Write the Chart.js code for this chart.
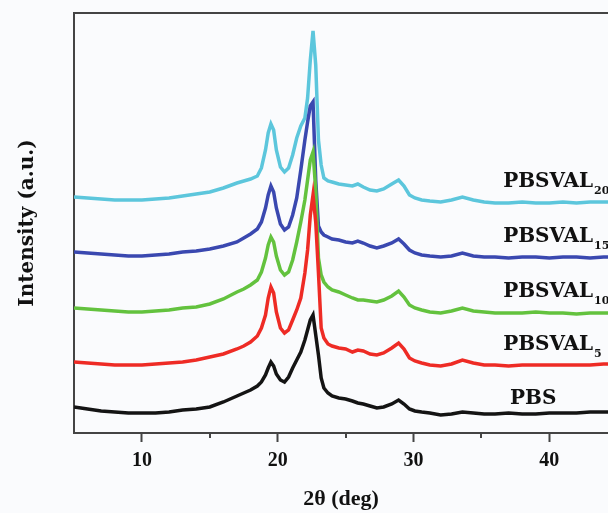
<!DOCTYPE html>
<html>
<head>
<meta charset="utf-8">
<title>XRD patterns</title>
<script src="https://cdn.jsdelivr.net/npm/chart.js@4.4.1/dist/chart.umd.min.js"></script>
<style>
    html, body { margin: 0; padding: 0; background: #fafbfd; }
    #wrap { width: 608px; height: 513px; }
</style>
</head>
<body>
<div id="wrap"><canvas id="xrdChart" width="608" height="513"></canvas></div>
<script>
// 2theta positions (deg), shared by all patterns
const angles = [5, 6, 7, 8, 9, 10, 11, 12, 13, 14, 15, 16, 17, 17.5, 18, 18.5, 18.8,
    19.1, 19.3, 19.5, 19.7, 19.9, 20.2, 20.5, 20.8, 21.1, 21.4, 21.7,
    22, 22.2, 22.4, 22.6, 22.8, 23, 23.2, 23.4, 23.7,
    24, 24.5, 25, 25.5, 25.9, 26.3, 26.8, 27.3, 27.8, 28.4, 28.9, 29.3, 29.7, 30.1, 30.6, 31.2,
    32, 32.8, 33.6, 34.4, 35.2, 36,
    37, 38, 39, 40, 41, 42, 43, 44, 45];

// intensities (a.u., already stacked with offsets as in the figure)
const pbs = [26, 24, 22, 21, 20, 20, 20, 21, 23, 24, 26, 31, 37, 40, 43, 47, 51,
    58, 65, 71, 67, 59, 53, 51, 56, 65, 73, 81,
    93, 103, 113, 118, 98, 78, 55, 45, 40,
    37, 35, 34, 32, 30, 29, 27, 25, 26, 29, 33, 29, 24, 22, 21, 20,
    18, 19, 21, 20, 19, 19,
    20, 19, 19, 20, 20, 20, 21, 21, 21];
const pbsval5 = [71, 70, 69, 68, 68, 68, 69, 70, 71, 73, 76, 79, 84, 87, 91, 97, 105,
    118, 135, 146, 140, 121, 105, 100, 103, 113, 123, 135,
    160, 183, 218, 238, 211, 160, 105, 95, 89,
    87, 85, 84, 81, 83, 82, 79, 78, 80, 85, 90, 84, 75, 72, 70, 68,
    67, 69, 73, 70, 68, 68,
    67, 68, 68, 68, 68, 68, 68, 69, 69];
const pbsval10 = [125, 124, 123, 122, 121, 121, 122, 123, 125, 126, 129, 134, 141, 144, 148, 153, 161,
    175, 188, 196, 191, 177, 163, 158, 161, 173, 191, 211,
    233, 253, 273, 281, 243, 175, 158, 151, 146,
    143, 141, 138, 135, 133, 133, 132, 131, 133, 137, 142, 136, 128, 125, 123, 121,
    120, 122, 125, 122, 121, 120,
    120, 120, 121, 120, 120, 119, 120, 120, 120];
const pbsval15 = [181, 180, 179, 178, 177, 177, 178, 179, 181, 182, 184, 187, 191, 195, 199, 204, 211,
    225, 238, 247, 241, 225, 209, 203, 206, 218, 235, 263,
    293, 311, 327, 331, 253, 207, 201, 198, 196,
    194, 193, 191, 190, 192, 190, 187, 185, 187, 190, 194, 189, 183, 180, 178, 177,
    176, 177, 180, 177, 176, 176,
    175, 176, 176, 175, 176, 176, 175, 176, 176];
const pbsval20 = [236, 235, 234, 233, 233, 233, 234, 235, 237, 239, 241, 245, 250, 252, 254, 257, 265,
    283, 300, 309, 303, 283, 266, 261, 265, 278, 295, 307,
    315, 335, 373, 402, 368, 293, 268, 255, 252,
    251, 249, 248, 247, 249, 246, 243, 242, 244, 249, 253, 247, 238, 235, 233, 232,
    231, 233, 236, 233, 231, 230,
    230, 231, 230, 230, 231, 230, 231, 231, 231];

const seriesNames = ['PBS', 'PBSVAL', 'PBSVAL', 'PBSVAL', 'PBSVAL'];
const seriesSubs = ['', '5', '10', '15', '20'];
const seriesColors = ['#141414', '#ee2b25', '#63c23e', '#3a48b0', '#5cc6dc'];
const seriesValues = [pbs, pbsval5, pbsval10, pbsval15, pbsval20];

const majorTicks = [10, 20, 30, 40];
const minorTicks = [15, 25, 35];

// where the sample names sit (2theta, intensity)
const labelSpots = [
    { x: 37.1, y: 36 },
    { x: 36.6, y: 90 },
    { x: 36.6, y: 143 },
    { x: 36.6, y: 198 },
    { x: 36.6, y: 253 }
];

const datasets = seriesValues.map((vals, i) => ({
    label: seriesNames[i] + seriesSubs[i],
    data: angles.map((a, j) => ({ x: a, y: vals[j] })),
    borderColor: seriesColors[i],
    borderWidth: 3.5,
    pointRadius: 0,
    tension: 0,
    fill: false
}));

// top frame line, short minor ticks and the sample names
const extrasPlugin = {
    id: 'extras',
    afterDraw(chart) {
        const ctx = chart.ctx;
        const area = chart.chartArea;
        const xs = chart.scales.x;
        const ys = chart.scales.y;

        ctx.save();
        ctx.strokeStyle = '#444';
        ctx.lineWidth = 2;
        ctx.beginPath();
        ctx.moveTo(area.left - 1, area.top);
        ctx.lineTo(area.right, area.top);
        ctx.stroke();

        minorTicks.forEach(v => {
            const px = Math.round(xs.getPixelForValue(v));
            ctx.beginPath();
            ctx.moveTo(px, area.bottom);
            ctx.lineTo(px, area.bottom + 5);
            ctx.stroke();
        });

        ctx.fillStyle = '#111';
        ctx.textBaseline = 'alphabetic';
        labelSpots.forEach((spot, i) => {
            const px = xs.getPixelForValue(spot.x);
            const py = ys.getPixelForValue(spot.y) + 7;
            ctx.font = 'bold 20px "DejaVu Serif"';
            ctx.fillText(seriesNames[i], px, py);
            if (seriesSubs[i]) {
                const w = ctx.measureText(seriesNames[i]).width;
                ctx.font = 'bold 11px "DejaVu Serif"';
                ctx.fillText(seriesSubs[i], px + w + 1, py + 7);
            }
        });
        ctx.restore();
    }
};

new Chart(document.getElementById('xrdChart'), {
    type: 'line',
    data: { datasets: datasets },
    options: {
        responsive: false,
        animation: false,
        layout: { padding: { top: 13, right: 0, bottom: 0, left: 0 } },
        plugins: {
            legend: { display: false },
            tooltip: { enabled: false }
        },
        scales: {
            x: {
                type: 'linear',
                min: 5,
                max: 44.32,
                afterFit: scale => { scale.height = 80; },
                afterBuildTicks: scale => {
                    scale.ticks = majorTicks.map(v => ({ value: v }));
                },
                border: { color: '#444', width: 2 },
                grid: {
                    drawOnChartArea: false,
                    drawTicks: true,
                    tickLength: 9,
                    tickColor: '#444',
                    tickWidth: 2
                },
                ticks: {
                    color: '#111',
                    padding: 7,
                    maxRotation: 0,
                    font: { family: '"Liberation Serif"', size: 20, weight: 'bold' }
                },
                title: {
                    display: true,
                    text: '2θ (deg)',
                    color: '#111',
                    padding: { top: 0, bottom: 0 },
                    font: { family: '"Liberation Serif"', size: 22, weight: 'bold' }
                }
            },
            y: {
                min: 0,
                max: 420,
                afterFit: scale => { scale.width = 74; },
                border: { color: '#444', width: 2 },
                grid: { display: false },
                ticks: { display: false },
                title: {
                    display: true,
                    text: 'Intensity (a.u.)',
                    color: '#111',
                    padding: { top: 16, bottom: 0 },
                    font: { family: '"DejaVu Serif"', size: 20, weight: 'bold' }
                }
            }
        }
    },
    plugins: [extrasPlugin]
});
</script>
</body>
</html>
